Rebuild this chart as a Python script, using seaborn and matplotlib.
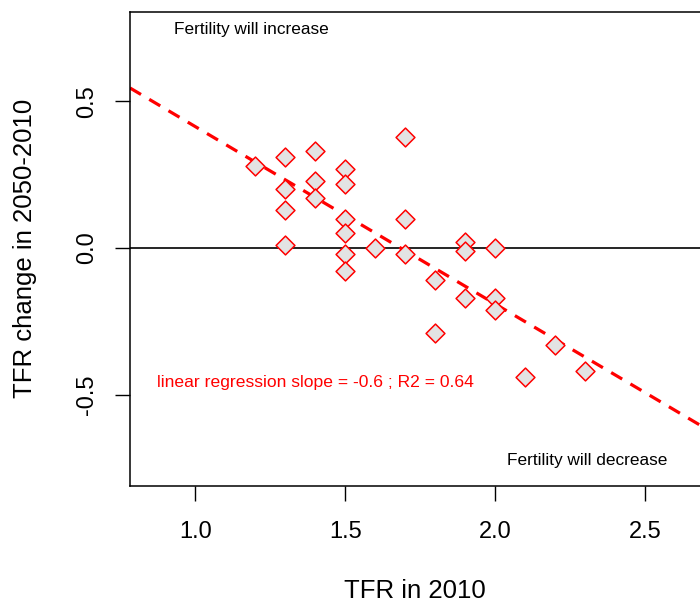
import numpy as np
import pandas as pd
import matplotlib
matplotlib.use("Agg")
import matplotlib.pyplot as plt
import seaborn as sns

tfr_2010 = [1.2, 1.3, 1.3, 1.3, 1.3, 1.4, 1.4, 1.4, 1.5, 1.5, 1.5, 1.5, 1.5, 1.5,
            1.6, 1.7, 1.7, 1.7, 1.8, 1.8, 1.9, 1.9, 1.9, 2.0, 2.0, 2.0, 2.1, 2.2, 2.3]
tfr_change = [0.28, 0.31, 0.20, 0.13, 0.01, 0.33, 0.23, 0.17, 0.27, 0.22, 0.10, 0.05, -0.02, -0.08,
              0.00, 0.38, 0.10, -0.02, -0.11, -0.29, 0.02, -0.01, -0.17, 0.00, -0.17, -0.21,
              -0.44, -0.33, -0.42]
reg_slope = -0.605
reg_intercept = 1.019
x_ticks = [1.0, 1.5, 2.0, 2.5]
y_ticks = [-0.5, 0.0, 0.5]
x_label = "TFR in 2010"
y_label = "TFR change in 2050-2010"
note_up = "Fertility will increase"
note_down = "Fertility will decrease"
reg_text = "linear regression slope = -0.6 ; R2 = 0.64"

df = pd.DataFrame({"tfr": tfr_2010, "change": tfr_change})

sns.set_style("white")
plt.rcParams["font.family"] = ["Liberation Sans", "DejaVu Sans"]
plt.rcParams["text.color"] = "black"
plt.rcParams["axes.labelcolor"] = "black"
plt.rcParams["xtick.color"] = "black"
plt.rcParams["ytick.color"] = "black"

fig = plt.figure(figsize=(7.0, 6.06), dpi=100)
ax = fig.add_axes([130 / 700, 1 - 486 / 606, 1 - 130 / 700, (486 - 11.5) / 606])

xlim = (0.7817, 2.683)
ylim = (-0.812, 0.807)

ax.axhline(0, color="black", lw=1.2, zorder=1)

xs = np.array(xlim)
sns.lineplot(x=xs, y=reg_intercept + reg_slope * xs, ax=ax, color="red", lw=2.3,
             zorder=2)
ax.lines[-1].set_dashes((4, 3))

sns.scatterplot(data=df, x="tfr", y="change", ax=ax, marker="D", s=92,
                facecolor="#E3E3E3", edgecolor="red", linewidth=1.1, zorder=3)

ax.set_xlim(xlim)
ax.set_ylim(ylim)
ax.set_xticks(x_ticks)
ax.set_yticks(y_ticks)
ax.set_xticklabels([f"{v:.1f}" for v in x_ticks], fontsize=17, color="black")
ax.set_yticklabels([f"{v:.1f}" for v in y_ticks], fontsize=17, rotation=90, va="center",
                   color="black")
ax.tick_params(axis="both", direction="out", length=11, width=1, color="black",
               bottom=True, left=True)
ax.tick_params(axis="x", pad=14)
ax.tick_params(axis="y", pad=12)
ax.set_xlabel(x_label, fontsize=18.5, labelpad=26, color="black")
ax.set_ylabel(y_label, fontsize=18.5, labelpad=28, color="black")

for side in ["left", "top", "bottom"]:
    ax.spines[side].set_color("black")
    ax.spines[side].set_linewidth(1.1)
ax.spines["right"].set_visible(False)

ax.text(1.185, 0.744, note_up, fontsize=12.4, ha="center", va="center", color="black")
ax.text(2.307, -0.724, note_down, fontsize=12.4, ha="center", va="center", color="black")
ax.text(1.40, -0.46, reg_text, fontsize=12.6, ha="center", va="center", color="red")

fig.savefig("out.png", dpi=100)
